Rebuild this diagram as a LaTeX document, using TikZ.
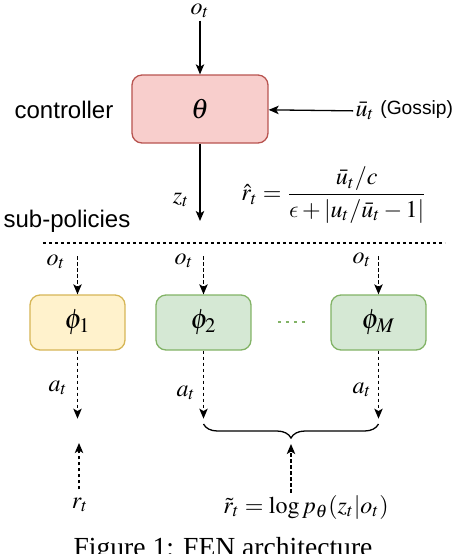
\documentclass[tikz,border=0pt]{standalone}
\usepackage{mathptmx}
\usepackage[no-math]{fontspec}
\setmainfont{Liberation Serif}
\setsansfont{Liberation Sans}
\DeclareSymbolFont{cmlett}{OML}{cmm}{m}{it}
\DeclareMathSymbol{\lunateeps}{\mathord}{cmlett}{"0F}
\usetikzlibrary{arrows.meta,decorations.pathreplacing}
\definecolor{redfill}{HTML}{F8CECC}
\definecolor{reddraw}{HTML}{B85450}
\definecolor{yelfill}{HTML}{FFF2CC}
\definecolor{yeldraw}{HTML}{D6B656}
\definecolor{grnfill}{HTML}{D5E8D4}
\definecolor{grndraw}{HTML}{82B366}
\begin{document}
\begin{tikzpicture}[x=0.5pt,y=-0.5pt,
  mathtxt/.style={font=\fontsize{12}{14}\selectfont, inner sep=1pt},
  sanstxt/.style={font=\sffamily\fontsize{12}{14}\selectfont, inner sep=0pt},
  arr/.style={-{Stealth[length=5pt,width=4.2pt,inset=1.2pt]}, line width=0.65pt},
  darr/.style={arr, dash pattern=on 1.6pt off 1.4pt},
  ctrlbox/.style={draw=reddraw, fill=redfill, line width=0.65pt, rounded corners=5pt,
    minimum width=68pt, minimum height=34pt, font=\fontsize{14}{16}\selectfont},
  yelbox/.style={draw=yeldraw, fill=yelfill, line width=0.65pt, rounded corners=5pt,
    minimum width=47.5pt, minimum height=27.5pt, font=\fontsize{14}{16}\selectfont},
  grnbox/.style={yelbox, draw=grndraw, fill=grnfill}]
\useasboundingbox (0,0) rectangle (456,554);

% controller
\node[ctrlbox] (ctrl) at (200,109) {$\theta$};
\node[mathtxt] (ot) at (200,11) {$o_t$};
\draw[arr] (ot) -- (ctrl);
\node[sanstxt] (ctrllab) at (64,110) {controller};
\node[mathtxt] (ub) at (365,111) {$\bar u_t$};
\node[sanstxt, anchor=west, font=\sffamily\fontsize{9.6}{11}\selectfont] (gos) at (380,110) {(Gossip)};
\draw[arr] (ub) -- (ctrl);
\coordinate (zend) at (200,221);
\draw[arr] (ctrl) -- (zend);
\node[mathtxt] (zt) at (181,200) {$z_t$};
\node[mathtxt] (rhat) at (334,195) {$\displaystyle \hat r_t = \frac{\bar u_t/c}{\lunateeps + |u_t/\bar u_t - 1|}$};

% separator
\node[sanstxt] (sublab) at (67,221) {sub-policies};
\coordinate (dl) at (43,243);
\coordinate (dr) at (445,243);
\draw[line width=0.6pt, dash pattern=on 1.6pt off 1.4pt] (dl) -- (dr);

% sub-policies
\node[yelbox] (p1) at (77.5,322.5) {$\phi_1$};
\node[grnbox] (p2) at (203.5,322.5) {$\phi_2$};
\node[grnbox] (pM) at (378.5,322.5) {$\phi_M$};
\coordinate (d1) at (278,322);
\coordinate (d2) at (307,322);
\draw[grndraw, line width=1.1pt, dash pattern=on 1.5pt off 2.5pt] (d1) -- (d2);

\foreach \b/\lx/\ly/\ax/\ay in {p1/56/262/58/388, p2/184/261/186/393, pM/362/260/362/390}{
  \coordinate (\b-in) at ([yshift=19pt]\b.north);
  \node[mathtxt] (\b-o) at (\lx,\ly) {$o_t$};
  \draw[darr] (\b-in) -- (\b.north);
  \coordinate (\b-out) at ([yshift=-34pt]\b.south);
  \node[mathtxt] (\b-a) at (\ax,\ay) {$a_t$};
  \draw[darr] (\b.south) -- (\b-out);
}

% brace
\coordinate (bl) at (203.5,424);
\coordinate (br) at (378.5,424);
\draw[line width=0.65pt, decorate, decoration={brace, amplitude=7pt, mirror}] (bl) -- (br);
\coordinate (tip) at (291,444);
\node[mathtxt] (rtil) at (306,507) {$\tilde r_t = \log p_\theta(z_t|o_t)$};
\draw[darr] (rtil.north -| tip) -- (tip);

\node[mathtxt] (rt) at (80,505) {$r_t$};
\coordinate (rtip) at (79,443);
\draw[darr] ([yshift=3pt]rt.north -| rtip) -- (rtip);

% caption
\node[anchor=base, font=\fontsize{13.8}{16}\selectfont, inner sep=0pt] (cap) at (223,556) {Figure 1: FEN architecture};
\end{tikzpicture}
\end{document}
